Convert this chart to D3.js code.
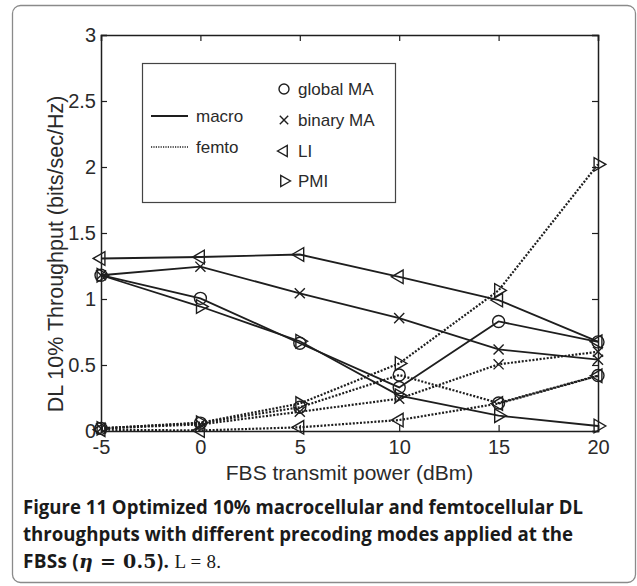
<!DOCTYPE html>
<html>
<head>
<meta charset="utf-8">
<script src="https://cdn.jsdelivr.net/npm/d3@7"></script>
<style>
  html, body { margin: 0; padding: 0; background: #fff; }
  svg { display: block; }
</style>
</head>
<body>
<script>
// ---- data ----
const powers = [-5, 0, 5, 10, 15, 20];
const macroGlobalMA = [1.18, 1.005, 0.665, 0.33, 0.83, 0.675];
const macroBinaryMA = [1.18, 1.245, 1.043, 0.855, 0.618, 0.54];
const macroLI       = [1.307, 1.318, 1.337, 1.168, 0.992, 0.677];
const macroPMI      = [1.18, 0.943, 0.68, 0.268, 0.116, 0.038];
const femtoGlobalMA = [0.02, 0.06, 0.18, 0.424, 0.212, 0.42];
const femtoBinaryMA = [0.02, 0.05, 0.146, 0.245, 0.505, 0.6];
const femtoLI       = [0.01, 0.004, 0.028, 0.083, 0.208, 0.418];
const femtoPMI      = [0.02, 0.063, 0.208, 0.512, 1.065, 2.02];
const xTicks = [-5, 0, 5, 10, 15, 20];
const xTickLabels = ["-5", "0", "5", "10", "15", "20"];
const yTicks = [0, 0.5, 1, 1.5, 2, 2.5, 3];
const yTickLabels = ["0", "0.5", "1", "1.5", "2", "2.5", "3"];
const modeNames = ["global MA", "binary MA", "LI", "PMI"];
const modeMarkers = ["circle", "cross", "left", "right"];
const cellNames = ["macro", "femto"];

const series = [
  {cell: "macro", mode: 0, values: macroGlobalMA},
  {cell: "macro", mode: 1, values: macroBinaryMA},
  {cell: "macro", mode: 2, values: macroLI},
  {cell: "macro", mode: 3, values: macroPMI},
  {cell: "femto", mode: 0, values: femtoGlobalMA},
  {cell: "femto", mode: 1, values: femtoBinaryMA},
  {cell: "femto", mode: 2, values: femtoLI},
  {cell: "femto", mode: 3, values: femtoPMI}
];

// ---- layout ----
const W = 637, H = 586;
const L = 101, R = 598, T = 35, B = 431;
const ink = "#1e1e1e";
const textInk = "#2a2a2a";
const font = "'Liberation Sans', Arial, sans-serif";

const svg = d3.select("body").append("svg").attr("width", W).attr("height", H);

// outer figure frame
svg.append("rect")
  .attr("x", 12.5).attr("y", 5.5).attr("width", 623).attr("height", 577)
  .attr("rx", 8).attr("ry", 8)
  .attr("fill", "none").attr("stroke", "#8a8a8a").attr("stroke-width", 1.3);

const x = d3.scaleLinear().domain([-5, 20]).range([L, R]);
const y = d3.scaleLinear().domain([0, 3]).range([B, T]);

// axes (ticks pointing inward on all four sides)
const gx = svg.append("g").attr("transform", `translate(0,${B})`)
  .call(d3.axisBottom(x).tickValues(xTicks).tickSize(-6).tickPadding(9)
    .tickFormat((d, i) => xTickLabels[i]));
const gxt = svg.append("g").attr("transform", `translate(0,${T})`)
  .call(d3.axisTop(x).tickValues(xTicks).tickSize(-6).tickFormat(""));
const gy = svg.append("g").attr("transform", `translate(${L},0)`)
  .call(d3.axisLeft(y).tickValues(yTicks).tickSize(-6).tickPadding(5)
    .tickFormat((d, i) => yTickLabels[i]));
const gyr = svg.append("g").attr("transform", `translate(${R},0)`)
  .call(d3.axisRight(y).tickValues(yTicks).tickSize(-6).tickFormat(""));

[gx, gxt, gy, gyr].forEach(g => {
  g.select(".domain").attr("stroke", ink).attr("stroke-width", 1.5);
  g.selectAll(".tick line").attr("stroke", ink).attr("stroke-width", 1.2);
  g.selectAll(".tick text").attr("fill", textInk).style("font-family", font).style("font-size", "20px");
});
gx.selectAll(".tick text").attr("dy", "0.72em");

// axis titles
svg.append("text")
  .attr("x", (L + R) / 2).attr("y", 480)
  .attr("text-anchor", "middle")
  .style("font-family", font).style("font-size", "21px").attr("fill", textInk)
  .text("FBS transmit power (dBm)");
svg.append("text")
  .attr("transform", `translate(63,254) rotate(-90)`)
  .attr("text-anchor", "middle")
  .style("font-family", font).style("font-size", "21.5px").attr("fill", textInk)
  .text("DL 10% Throughput (bits/sec/Hz)");

// marker helper
function marker(g, type, cx, cy, s) {
  if (type === "circle") {
    g.append("circle").attr("cx", cx).attr("cy", cy).attr("r", s * 0.5)
      .attr("fill", "none").attr("stroke", ink).attr("stroke-width", 1.4);
  } else if (type === "cross") {
    const h = s * 0.42;
    g.append("path")
      .attr("d", `M${cx - h},${cy - h}L${cx + h},${cy + h}M${cx - h},${cy + h}L${cx + h},${cy - h}`)
      .attr("fill", "none").attr("stroke", ink).attr("stroke-width", 1.4);
  } else {
    const rot = type === "left" ? -90 : 90;
    g.append("path")
      .attr("d", d3.symbol(d3.symbolTriangle, s * s * 0.55)())
      .attr("transform", `translate(${cx},${cy}) rotate(${rot})`)
      .attr("fill", "none").attr("stroke", ink).attr("stroke-width", 1.4);
  }
}

// lines
const line = d3.line().x((d, i) => x(powers[i])).y(d => y(d));
const plot = svg.append("g");
series.forEach(s => {
  plot.append("path")
    .datum(s.values)
    .attr("d", line)
    .attr("fill", "none")
    .attr("stroke", ink)
    .attr("stroke-width", s.cell === "macro" ? 1.8 : 2.2)
    .attr("stroke-dasharray", s.cell === "macro" ? null : "2,1.6");
});
series.forEach(s => {
  s.values.forEach((v, i) => marker(plot, modeMarkers[s.mode], x(powers[i]), y(v), 12));
});

// legend
const lg = svg.append("g");
lg.append("rect").attr("x", 142.5).attr("y", 63.5).attr("width", 253).attr("height", 139)
  .attr("fill", "#fff").attr("stroke", "#444").attr("stroke-width", 1.2);
const cellY = [116, 147];
cellNames.forEach((c, i) => {
  lg.append("line").attr("x1", 151).attr("x2", 188).attr("y1", cellY[i]).attr("y2", cellY[i])
    .attr("stroke", ink).attr("stroke-width", c === "macro" ? 1.8 : 1.3)
    .attr("stroke-dasharray", c === "macro" ? null : "1.2,1.2");
  lg.append("text").attr("x", 196).attr("y", cellY[i] + 6)
    .style("font-family", font).style("font-size", "17px").attr("fill", textInk).text(c);
});
const modeY = [89, 120, 151, 181];
modeNames.forEach((m, i) => {
  marker(lg, modeMarkers[i], 284, modeY[i], 10);
  lg.append("text").attr("x", 298).attr("y", modeY[i] + 6)
    .style("font-family", font).style("font-size", "17px").attr("fill", textInk).text(m);
});

// caption
const capFont = "'Open Sans', 'Noto Sans', sans-serif";
svg.append("text").attr("x", 23).attr("y", 514)
  .attr("textLength", 560).attr("lengthAdjust", "spacingAndGlyphs")
  .style("font-family", capFont).style("font-size", "19px").style("font-weight", 700).attr("fill", "#1a1a1a")
  .text("Figure 11 Optimized 10% macrocellular and femtocellular DL");
svg.append("text").attr("x", 23).attr("y", 541)
  .attr("textLength", 550).attr("lengthAdjust", "spacingAndGlyphs")
  .style("font-family", capFont).style("font-size", "19px").style("font-weight", 700).attr("fill", "#1a1a1a")
  .text("throughputs with different precoding modes applied at the");
const c3 = svg.append("text").attr("x", 23).attr("y", 568)
  .attr("textLength", 198).attr("lengthAdjust", "spacing")
  .style("font-family", capFont).style("font-size", "19px").attr("fill", "#1a1a1a");
c3.append("tspan").style("font-weight", 700).text("FBSs (");
c3.append("tspan").style("font-family", "'DejaVu Serif', serif").style("font-style", "italic").style("font-weight", 700).text("η");
c3.append("tspan").style("font-family", "'DejaVu Serif', serif").style("font-weight", 700).text(" = 0.5");
c3.append("tspan").style("font-weight", 700).text("). ");
c3.append("tspan").style("font-family", "'Liberation Serif', serif").style("font-weight", 400).text("L = 8.");
</script>
</body>
</html>
